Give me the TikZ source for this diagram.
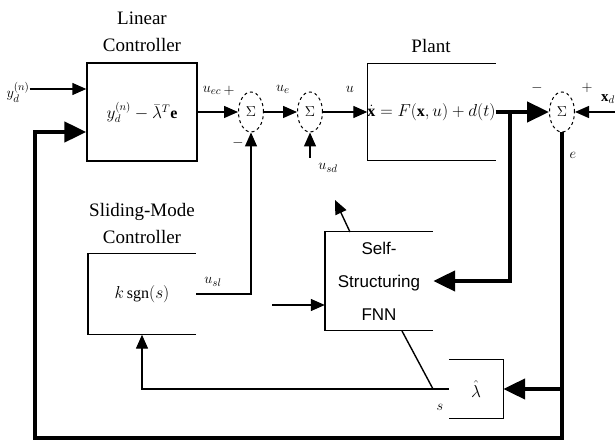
\documentclass[tikz,border=0pt]{standalone}
\usepackage{fontspec}
\setmainfont{Liberation Serif}
\newfontfamily\fnnfont{Liberation Sans}
\usetikzlibrary{arrows.meta,shapes.geometric}
\begin{document}
\begin{tikzpicture}[x=1pt,y=-1pt,
  thinline/.style={line width=1.4pt},
  thickline/.style={line width=4.5pt},
  thinarrow/.style={thinline,-{Triangle[length=14pt,width=12pt]}},
  thickarrow/.style={thickline,-{Triangle[length=22pt,width=20pt]}},
  sumnode/.style={ellipse,draw,dashed,line width=1pt,minimum width=25pt,minimum height=40pt,inner sep=0pt,font=\fontsize{15}{18}\selectfont},
  titletext/.style={font=\fontsize{19}{27}\selectfont,align=center},
  boxnode/.style={inner sep=0pt,font=\fontsize{16}{20}\selectfont},
  lbl/.style={font=\fontsize{15}{18}\selectfont,inner sep=0pt}
]
\useasboundingbox (0,0) rectangle (615,443);

% blocks
\node[boxnode,draw,thinline,minimum width=110pt,minimum height=98pt] (lin) at (142,112) {$y_d^{(n)}-\bar{\lambda}^{T}\mathbf{e}$};
\node[boxnode,minimum width=127pt,minimum height=97pt] (plant) at (431.5,112) {$\dot{\mathbf{x}}=F(\mathbf{x},u)+d(t)$};
\node[boxnode,minimum width=108pt,minimum height=81pt] (slide) at (142,294) {$k\,\mathrm{sgn}(s)$};
\node[boxnode,minimum width=108pt,minimum height=99pt,align=center,font=\fnnfont\fontsize{17}{33}\selectfont] (fnn) at (379,281) {Self-\\Structuring\\FNN};
\node[boxnode,minimum width=54pt,minimum height=59pt] (lam) at (476,389) {$\hat{\lambda}$};

\draw[thinline] (plant.south east) -- (plant.south west) -- (plant.north west) -- (plant.north east);
\draw[thinline] (slide.south east) -- (slide.south west) -- (slide.north west) -- (slide.north east);
\draw[thinline] (fnn.south east) -- (fnn.south west) -- (fnn.north west) -- (fnn.north east);
\draw[thinline] (lam.north west) -- (lam.north east) -- (lam.south east) -- (lam.south west);

% titles
\node[titletext] (tlin) at (142,32) {Linear\\Controller};
\node[titletext] (tplant) at (431,46) {Plant};
\node[titletext] (tslide) at (142,224) {Sliding-Mode\\Controller};

% summing junctions
\node[sumnode] (s1) at (251,112) {$\Sigma$};
\node[sumnode] (s2) at (310,112) {$\Sigma$};
\node[sumnode] (s3) at (562,112) {$\Sigma$};

% input
\node[lbl] (yd) at (18,92) {$y_d^{(n)}$};
\draw[thinarrow] (yd.east |- 0,89) -- (lin.west |- 0,89);

% forward path
\draw[thinarrow] (lin.east) -- (s1.west);
\draw[thinarrow] (s1.east) -- (s2.west);
\draw[thinarrow] (s2.east) -- (plant.west);
\draw[thickarrow] (plant.east) -- (s3.west);
\coordinate (br) at (510,112);
\draw[thickarrow] (br) |- (fnn.east);

% reference x_d
\coordinate (xdin) at (615,112);
\draw[thinarrow] (xdin) -- (s3.east);
\node[lbl,anchor=west] (xd) at (601,99) {$\mathbf{x}_d$};
\node[lbl] (m3) at (537,88) {$-$};
\node[lbl] (p3) at (587,88) {$+$};
\node[lbl] (elbl) at (573,155) {$e$};

% error feedback
\coordinate (fbR) at (562,438);
\coordinate (fbL) at (35,438);
\coordinate (fbT) at (35,132);
\draw[thickarrow] (s3.south) -- (fbR) -- (fbL) -- (fbT) -- (fbT -| lin.west);
\coordinate (lamin) at (562,389);
\draw[thickarrow] (lamin) -- (lam.east);

% sliding-mode output
\draw[thinarrow] (slide.east) -| (s1.south);
\node[lbl] (usl) at (213,282) {$u_{sl}$};

% labels at sums
\node[lbl] (uec) at (212,90) {$u_{ec}$};
\node[lbl] (p1) at (229,91) {$+$};
\node[lbl] (m1) at (238,143) {$-$};
\node[lbl] (ue) at (283,89) {$u_e$};
\node[lbl] (ul) at (350,89) {$u$};

% u_sd
\coordinate (usdin) at (310,158);
\draw[thinarrow] (usdin) -- (s2.south);
\node[lbl] (usd) at (328,168) {$u_{sd}$};
\coordinate (fnnout) at (350,232);
\coordinate (fnntip) at (335,200);
\draw[thinarrow] (fnnout) -- (fnntip);

% FNN left input
\coordinate (fnnin) at (272,305);
\draw[thinarrow] (fnnin) -- (fnnin -| fnn.west);

% sliding surface s
\draw[thinarrow] (lam.west) -- (lam.west -| slide.south) -- (slide.south);
\coordinate (fnnb) at (402,331);
\coordinate (sj) at (433,389);
\draw[thinline] (fnnb) -- (sj);
\node[lbl] (slbl) at (440,407) {$s$};
\end{tikzpicture}
\end{document}
